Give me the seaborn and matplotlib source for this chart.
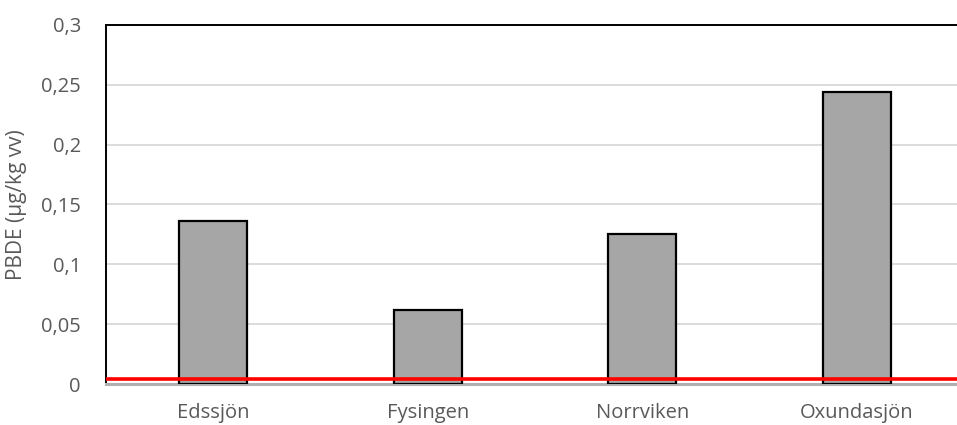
import matplotlib
matplotlib.use("Agg")
import matplotlib.pyplot as plt
from matplotlib.ticker import FuncFormatter, MultipleLocator
import seaborn as sns
import pandas as pd

# PBDE concentrations in fish per lake
lakes = ["Edssjön", "Fysingen", "Norrviken", "Oxundasjön"]
pbde = [0.136, 0.062, 0.125, 0.244]
# Environmental quality standard for PBDE
threshold = 0.004

df = pd.DataFrame({"lake": lakes, "pbde": pbde})

sns.set_theme(style="white")
plt.rcParams["font.family"] = ["Open Sans", "DejaVu Sans"]

fig = plt.figure(figsize=(9.57, 4.25), dpi=100)
ax = fig.add_axes([106 / 957, 41 / 425, 858 / 957, 359 / 425])

sns.barplot(data=df, x="lake", y="pbde", color="#a6a6a6", width=0.317,
            edgecolor="black", linewidth=1.6, saturation=1, ax=ax, zorder=3)

ax.axhline(threshold, color="#ff0000", lw=2.6, zorder=4)

ax.set_ylim(0, 0.3)
ax.yaxis.set_major_locator(MultipleLocator(0.05))
ax.yaxis.set_major_formatter(
    FuncFormatter(lambda v, _: ("%g" % round(v, 2)).replace(".", ",")))
ax.grid(axis="y", color="#d9d9d9", lw=1.3, zorder=0)
ax.set_axisbelow(True)

for side in ["left", "top"]:
    ax.spines[side].set_color("black")
    ax.spines[side].set_linewidth(1.4)
ax.spines["right"].set_visible(False)
ax.spines["bottom"].set_color("#b0b0b0")
ax.spines["bottom"].set_linewidth(2.2)

ax.tick_params(axis="y", length=0, pad=18, labelsize=14.5, labelcolor="#595959")
ax.tick_params(axis="x", length=0, pad=14, labelsize=14.5, labelcolor="#595959")
ax.set_xlabel("")
ax.set_ylabel("PBDE (µg/kg vv)", fontsize=15, color="#595959", labelpad=10)

fig.savefig("out.png", dpi=100)
